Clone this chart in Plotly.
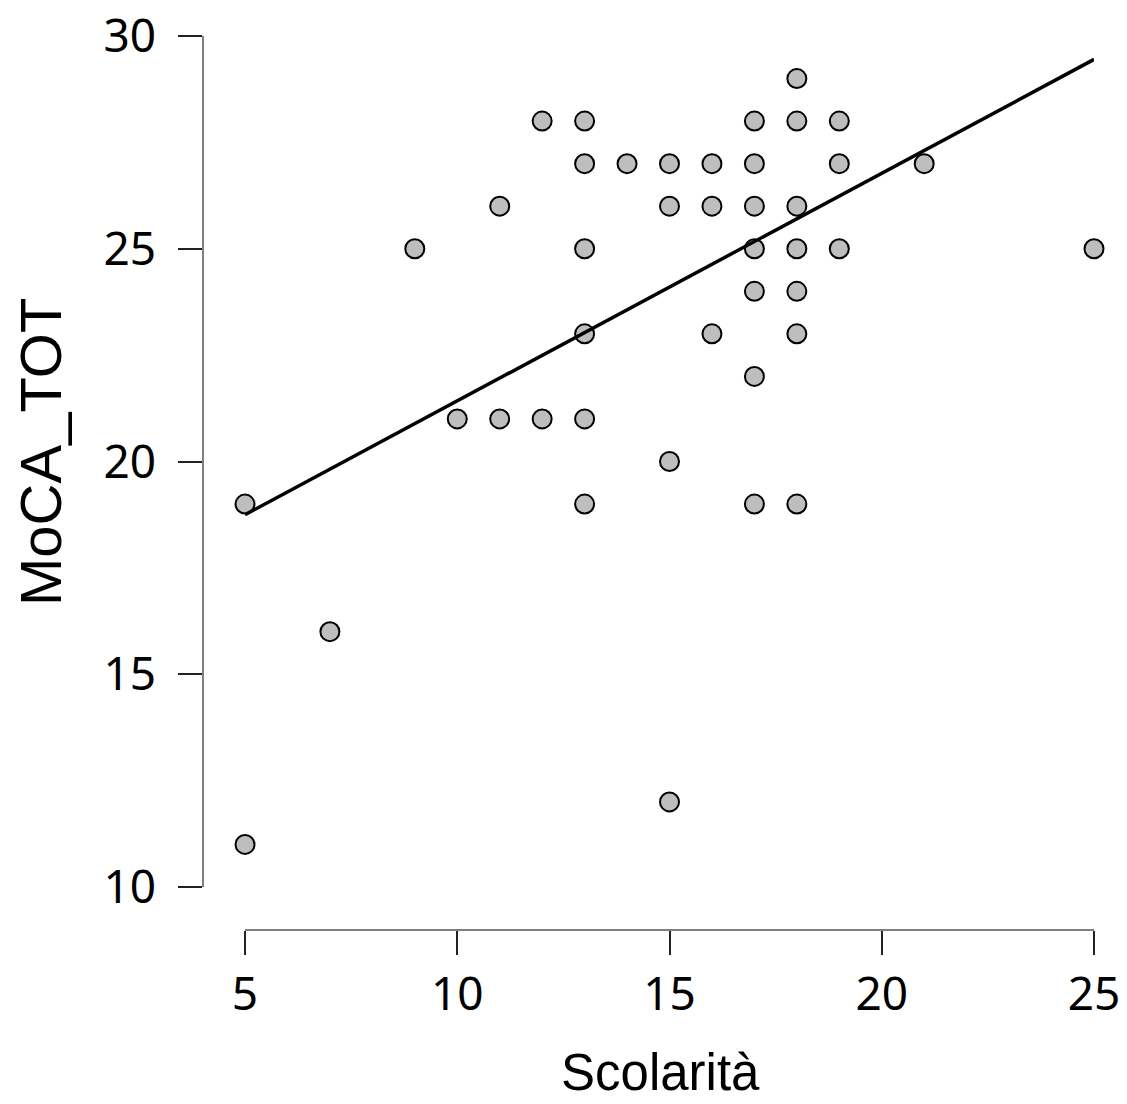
import plotly.graph_objects as go

scolarita = [5, 5, 7, 9, 10, 11, 11, 12, 12, 13, 13, 13, 13, 13, 13, 14, 15, 15, 15, 15,
             16, 16, 16, 17, 17, 17, 17, 17, 17, 17, 18, 18, 18, 18, 18, 18, 18, 19, 19, 19, 21, 25]
moca_tot = [19, 11, 16, 25, 21, 26, 21, 28, 21, 28, 27, 25, 23, 21, 19, 27, 27, 26, 20, 12,
            27, 26, 23, 28, 27, 26, 25, 24, 22, 19, 29, 28, 26, 25, 24, 23, 19, 28, 27, 25, 27, 25]

fit_x = [5, 25]
fit_y = [18.75, 29.45]

x_ticks = [5, 10, 15, 20, 25]
y_ticks = [10, 15, 20, 25, 30]

W, H = 1127, 1104
ml, mr, mt, mb = 203, 33, 36, 174
pw = W - ml - mr
ph = H - mt - mb

fig = go.Figure()
fig.add_trace(go.Scatter(
    x=scolarita, y=moca_tot, mode="markers",
    marker=dict(size=19, color="#bebebe", line=dict(color="black", width=2)),
    cliponaxis=False, showlegend=False, hoverinfo="x+y"))
fig.add_trace(go.Scatter(
    x=fit_x, y=fit_y, mode="lines",
    line=dict(color="black", width=3.5),
    cliponaxis=False, showlegend=False))

tickfont = dict(family="Noto Sans, Open Sans, DejaVu Sans", size=46, color="black")
fig.update_layout(
    width=W, height=H,
    margin=dict(l=ml, r=mr, t=mt, b=mb),
    plot_bgcolor="white", paper_bgcolor="white",
    xaxis=dict(domain=[42 / pw, 1], range=[5, 25], anchor="free", position=0,
               tickvals=x_ticks, ticktext=[str(v) for v in x_ticks],
               showgrid=False, zeroline=False, showline=True, automargin=False,
               linecolor="#7f7f7f", linewidth=1.5,
               ticks="outside", ticklen=24, tickwidth=1.5, tickcolor="#222222",
               tickfont=tickfont, ticklabelstandoff=0, ticklabeloverflow="allow"),
    yaxis=dict(domain=[43 / ph, 1], range=[10, 30], anchor="free", position=0,
               tickvals=y_ticks, ticktext=[str(v) for v in y_ticks],
               showgrid=False, zeroline=False, showline=True, automargin=False,
               linecolor="#7f7f7f", linewidth=1.5,
               ticks="outside", ticklen=24, tickwidth=1.5, tickcolor="#222222",
               tickfont=tickfont, ticklabelstandoff=13, ticklabeloverflow="allow"),
    annotations=[
        dict(text="Scolarità", xref="paper", yref="paper",
             x=(660 - ml) / pw, y=-(H - 1 - (H - mb)) / ph,
             xanchor="center", yanchor="bottom", showarrow=False,
             font=dict(family="Liberation Sans, Arial", size=51, color="black")),
        dict(text="MoCA_TOT", xref="paper", yref="paper",
             x=-(ml - 40) / pw, y=(H - mb - 452) / ph, textangle=-90,
             xanchor="center", yanchor="middle", showarrow=False,
             font=dict(family="Liberation Sans, Arial", size=58, color="black")),
    ],
)

fig.write_html(
    "out.html",
    config={"displayModeBar": False},
    post_script="document.body.style.margin='0px';document.body.style.overflow='hidden';",
)
